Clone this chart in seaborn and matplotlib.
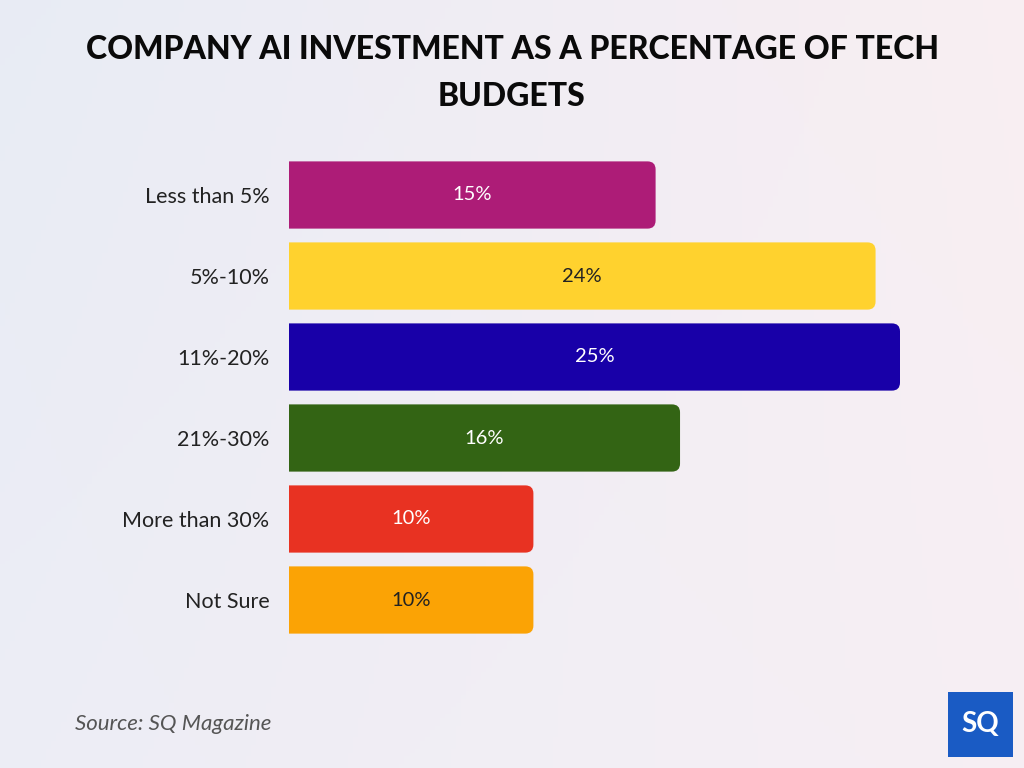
import numpy as np
import matplotlib.pyplot as plt
import seaborn as sns
import pandas as pd
from matplotlib.patches import FancyBboxPatch, Rectangle

categories = ["Less than 5%", "5%-10%", "11%-20%", "21%-30%", "More than 30%", "Not Sure"]
values = [15, 24, 25, 16, 10, 10]
bar_colors = ["#AD1C77", "#FFD22E", "#1800A8", "#336414", "#E83222", "#FBA305"]
label_colors = ["white", "#222222", "white", "white", "white", "#222222"]

df = pd.DataFrame({"category": categories, "value": values})

sns.set_style("white")
plt.rcParams['font.family'] = ['Lato', 'DejaVu Sans']

fig = plt.figure(figsize=(10.24, 7.68), dpi=100)

# soft gradient background
bg = fig.add_axes([0, 0, 1, 1])
xx, yy = np.meshgrid(np.linspace(0, 1, 200), np.linspace(0, 1, 200))
left = np.array([0.91, 0.925, 0.96])
right = np.array([0.975, 0.935, 0.95])
bottom = np.array([0.955, 0.94, 0.965])
t = xx[..., None]
img = left * (1 - t) + right * t
img = img * (1 - 0.4 * yy[..., None]) + bottom * 0.4 * yy[..., None]
bg.imshow(img, aspect="auto", extent=[0, 1, 0, 1])
bg.axis("off")

ax = fig.add_axes([289 / 1024, 1 - 640.5 / 768, 611 / 1024, 486 / 768])
ax.set_facecolor("none")
sns.barplot(data=df, y="category", x="value", hue="category", palette=bar_colors,
            order=categories, orient="h", width=0.83, saturation=1,
            legend=False, ax=ax)
ax.set_xlim(0, 25)
ax.set_ylim(5.5, -0.5)

# swap plain bars for right-rounded ones
for p in list(ax.patches):
    x, y, w, h = p.get_x(), p.get_y(), p.get_width(), p.get_height()
    fc = p.get_facecolor()
    p.remove()
    rb = FancyBboxPatch((x - 1, y), w + 1, h,
                        boxstyle="round,pad=0,rounding_size=0.33",
                        mutation_aspect=24.44 / 81, facecolor=fc,
                        edgecolor="none", clip_on=True)
    ax.add_patch(rb)

for i, v in enumerate(values):
    ax.text(v / 2, i, f"{v}%", ha="center", va="center",
            fontsize=14.5, color=label_colors[i])

ax.set_xlabel("")
ax.set_ylabel("")
ax.set_xticks([])
ax.tick_params(axis="y", length=0, pad=14, labelsize=15.5, labelcolor="#222222")
sns.despine(ax=ax, left=True, bottom=True)

fig.text(0.5, 1 - 73 / 768, "COMPANY AI INVESTMENT AS A PERCENTAGE OF TECH\nBUDGETS",
         ha="center", va="center", fontsize=23, fontweight="black",
         linespacing=1.75, color="#0a0a0a")

fig.text(75 / 1024, 1 - 724 / 768, "Source: SQ Magazine", ha="left", va="center",
         fontsize=16, style="italic", color="#555555")

# logo box
fig.patches.append(Rectangle((948 / 1024, 1 - 757 / 768), 65 / 1024, 65 / 768,
                             transform=fig.transFigure, facecolor="#1a5bc4",
                             edgecolor="none"))
fig.text(980.5 / 1024, 1 - 724.5 / 768, "SQ", ha="center", va="center",
         fontsize=20, fontweight="bold", color="white")

fig.savefig("out.png", dpi=100)
